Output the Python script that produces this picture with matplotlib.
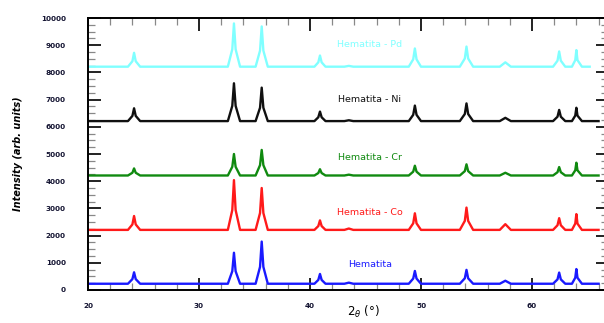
import numpy as np

import matplotlib
matplotlib.use('Agg')
import matplotlib.pyplot as plt
from matplotlib.ticker import MultipleLocator

# 2theta positions (baseline feet, shoulders and tops of the peaks)
two_theta = [20.0,
             23.6, 24.0, 24.15, 24.3, 24.7,
             32.6, 33.0, 33.15, 33.3, 33.7,
             35.1, 35.5, 35.65, 35.8, 36.2,
             40.4, 40.75, 40.9, 41.05, 41.4,
             43.1, 43.5, 43.9,
             48.9, 49.3, 49.45, 49.6, 50.0,
             53.5, 53.95, 54.1, 54.25, 54.7,
             57.1, 57.6, 58.1,
             61.9, 62.3, 62.45, 62.6, 63.0,
             63.6, 63.9, 64.0, 64.1, 64.5,
             65.2, 66.0]

hematita = [230,
            230, 400, 650, 400, 230,
            230, 690, 1370, 690, 230,
            230, 850, 1780, 850, 230,
            230, 370, 590, 370, 230,
            230, 270, 230,
            230, 420, 700, 420, 230,
            230, 430, 740, 430, 230,
            230, 340, 230,
            230, 390, 640, 390, 230,
            230, 450, 770, 450, 230,
            230, 230]

hematita_co = [2210,
               2210, 2410, 2720, 2410, 2210,
               2210, 2940, 4040, 2940, 2210,
               2210, 2830, 3750, 2830, 2210,
               2210, 2350, 2560, 2350, 2210,
               2210, 2260, 2210,
               2210, 2450, 2820, 2450, 2210,
               2210, 2540, 3030, 2540, 2210,
               2210, 2420, 2210,
               2210, 2380, 2640, 2380, 2210,
               2210, 2440, 2790, 2440, 2210,
               2210, 2210]

hematita_cr = [4210,
               4210, 4310, 4470, 4310, 4210,
               4210, 4530, 5000, 4530, 4210,
               4210, 4590, 5150, 4590, 4210,
               4210, 4300, 4440, 4300, 4210,
               4210, 4240, 4210,
               4210, 4350, 4570, 4350, 4210,
               4210, 4370, 4620, 4370, 4210,
               4210, 4310, 4210,
               4210, 4330, 4520, 4330, 4210,
               4210, 4400, 4680, 4400, 4210,
               4210, 4210]

hematita_ni = [6210,
               6210, 6400, 6680, 6400, 6210,
               6210, 6770, 7600, 6770, 6210,
               6210, 6700, 7440, 6700, 6210,
               6210, 6350, 6560, 6350, 6210,
               6210, 6240, 6210,
               6210, 6440, 6780, 6440, 6210,
               6210, 6470, 6860, 6470, 6210,
               6210, 6330, 6210,
               6210, 6370, 6620, 6370, 6210,
               6210, 6410, 6700, 6410, 6210,
               6210, 6210]

hematita_pd = [8210,
               8210, 8410, 8720, 8410, 8210,
               8210, 8850, 9800, 8850, 8210,
               8210, 8800, 9690, 8800, 8210,
               8210, 8370, 8620, 8370, 8210,
               8210, 8240, 8210,
               8210, 8480, 8880, 8480, 8210,
               8210, 8510, 8950, 8510, 8210,
               8210, 8370, 8210,
               8210, 8430, 8770, 8430, 8210,
               8210, 8450, 8820, 8450, 8210,
               8210, np.nan]

series = [hematita, hematita_co, hematita_cr, hematita_ni, hematita_pd]
names = ['Hematita', 'Hematita - Co', 'Hematita - Cr', 'Hematita - Ni', 'Hematita - Pd']
colors = ['#1a1aff', '#ff1a1a', '#108a10', '#101010', '#80ffff']
label_y = [950, 2850, 4880, 6990, 9040]

fig = plt.figure(figsize=(6.04, 3.23), dpi=100)
ax = fig.add_axes([88 / 604, 33 / 323, 520 / 604, 272 / 323])

for values, name, color, ly in zip(series, names, colors, label_y):
    ax.plot(two_theta, values, color=color, lw=1.7, solid_joinstyle='round')
    ax.text(45.4, ly, name, color=color, fontsize=6.8, ha='center', va='center')

ax.set_xlim(20, 66.85)
ax.set_ylim(0, 10000)
ax.xaxis.set_major_locator(MultipleLocator(10))
ax.xaxis.set_minor_locator(MultipleLocator(2))
ax.yaxis.set_major_locator(MultipleLocator(1000))
ax.yaxis.set_minor_locator(MultipleLocator(250))

ax.tick_params(which='both', direction='in', top=True, right=True, colors='#111111')
ax.tick_params(which='major', length=9, width=1.3)
ax.tick_params(which='minor', length=5, width=0.9, colors='#888888')
ax.tick_params(axis='y', which='major', pad=16)
ax.tick_params(axis='x', which='major', pad=9)
for lab in ax.get_xticklabels() + ax.get_yticklabels():
    lab.set_fontsize(5.2)
    lab.set_fontweight('bold')
    lab.set_color('#141432')
for sp in ax.spines.values():
    sp.set_linewidth(1.4)

ax.set_ylabel('Intensity (arb. units)', fontsize=7, style='italic', fontweight='bold')
ax.yaxis.set_label_coords(-0.125, 0.5)
ax.set_xlabel(r'$2_\theta\ (°)$', fontsize=8.5)
ax.xaxis.set_label_coords(0.53, -0.05)

fig.savefig('out.png', dpi=100)
